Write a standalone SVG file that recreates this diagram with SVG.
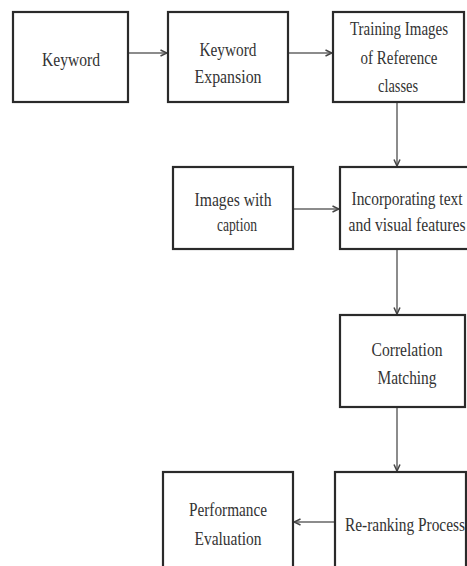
<svg xmlns="http://www.w3.org/2000/svg" width="467" height="566" viewBox="0 0 467 566">
<defs>
<style>
.box{fill:#fff;stroke:#2a2a2a;stroke-width:2.2}
.t{font-family:"Liberation Serif","Times New Roman",serif;font-size:19px;fill:#333;text-anchor:middle}
.c{stroke:#666;stroke-width:1.5;fill:none;marker-end:url(#ah)}
</style>
<marker id="ah" viewBox="0 0 8 8" refX="7.5" refY="4" markerWidth="8" markerHeight="8" markerUnits="userSpaceOnUse" orient="auto">
<path d="M1,1 L7.5,4 L1,7" fill="none" stroke="#444" stroke-width="1.5"/>
</marker>
</defs>
<rect width="467" height="566" fill="#fff"/>
<g id="connectors">
<line class="c" x1="128" y1="53" x2="167" y2="53"/>
<line class="c" x1="288" y1="53" x2="332" y2="53"/>
<line class="c" x1="397" y1="102" x2="397" y2="166"/>
<line class="c" x1="293" y1="209" x2="339" y2="209"/>
<line class="c" x1="397" y1="249" x2="397" y2="314"/>
<line class="c" x1="397" y1="407" x2="397" y2="471"/>
<line class="c" x1="335" y1="522" x2="294" y2="522"/>
</g>
<g id="keyword">
<rect class="box" x="13" y="12" width="115" height="90"/>
<text class="t" x="71" y="66" textLength="58" lengthAdjust="spacingAndGlyphs">Keyword</text>
</g>
<g id="keyword-expansion">
<rect class="box" x="168" y="12" width="120" height="90"/>
<text class="t" x="228" y="56" textLength="57" lengthAdjust="spacingAndGlyphs">Keyword</text>
<text class="t" x="228" y="83" textLength="67" lengthAdjust="spacingAndGlyphs">Expansion</text>
</g>
<g id="training-images">
<rect class="box" x="333" y="12" width="131" height="90"/>
<text class="t" x="399" y="35" textLength="98" lengthAdjust="spacingAndGlyphs">Training Images</text>
<text class="t" x="399" y="64" textLength="77" lengthAdjust="spacingAndGlyphs">of Reference</text>
<text class="t" x="398" y="92" textLength="40" lengthAdjust="spacingAndGlyphs">classes</text>
</g>
<g id="images-with-caption">
<rect class="box" x="173" y="167" width="120" height="82"/>
<text class="t" x="233" y="206" textLength="77" lengthAdjust="spacingAndGlyphs">Images with</text>
<text class="t" x="237" y="231" textLength="40" lengthAdjust="spacingAndGlyphs">caption</text>
</g>
<g id="incorporating">
<rect class="box" x="340" y="167" width="132" height="82"/>
<text class="t" x="407" y="205" textLength="111" lengthAdjust="spacingAndGlyphs">Incorporating text</text>
<text class="t" x="407" y="231" textLength="117" lengthAdjust="spacingAndGlyphs">and visual features</text>
</g>
<g id="correlation-matching">
<rect class="box" x="340" y="315" width="125" height="92"/>
<text class="t" x="407" y="356" textLength="71" lengthAdjust="spacingAndGlyphs">Correlation</text>
<text class="t" x="407" y="384" textLength="59" lengthAdjust="spacingAndGlyphs">Matching</text>
</g>
<g id="re-ranking">
<rect class="box" x="335" y="472" width="131" height="110"/>
<text class="t" x="405" y="531" textLength="120" lengthAdjust="spacingAndGlyphs">Re-ranking Process</text>
</g>
<g id="performance-evaluation">
<rect class="box" x="163" y="472" width="130" height="110"/>
<text class="t" x="228" y="516" textLength="78" lengthAdjust="spacingAndGlyphs">Performance</text>
<text class="t" x="228" y="545" textLength="67" lengthAdjust="spacingAndGlyphs">Evaluation</text>
</g>
</svg>
